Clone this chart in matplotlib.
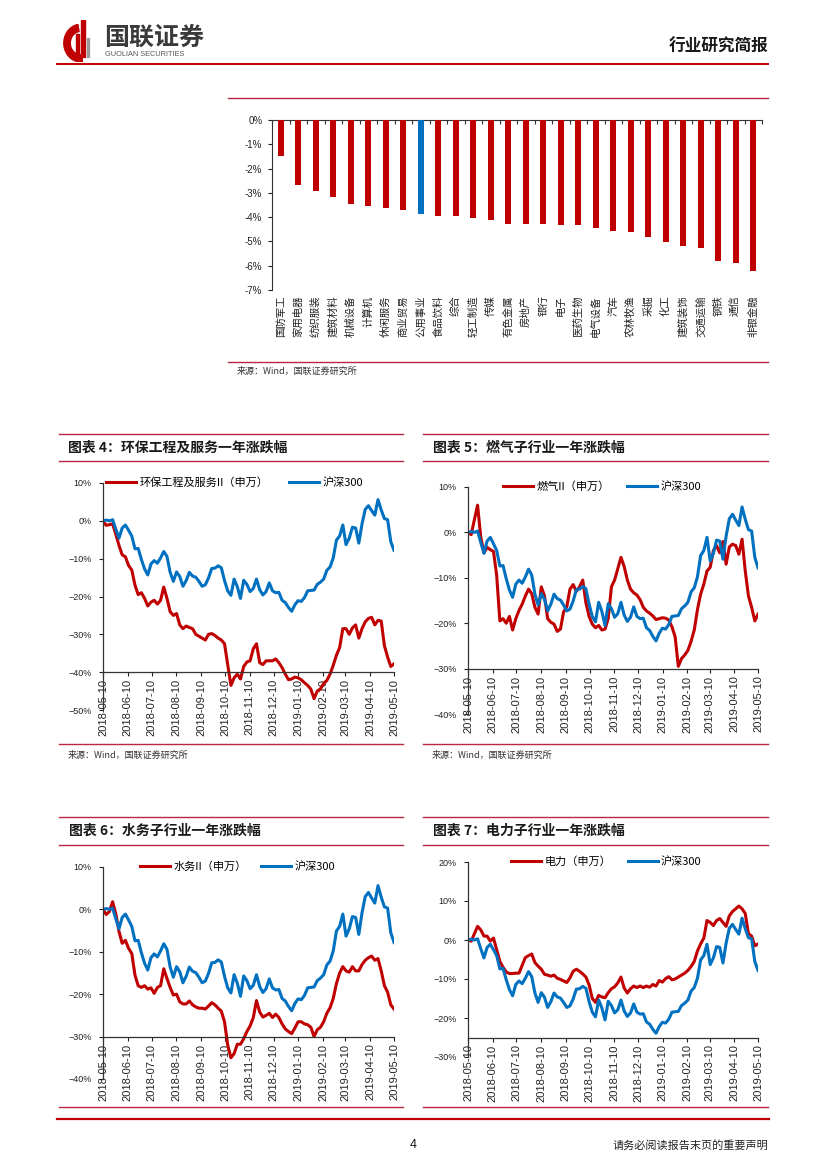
import numpy as np
import pandas as pd
import matplotlib
matplotlib.use('Agg')
import matplotlib.pyplot as plt
from matplotlib.lines import Line2D
from matplotlib.patches import Wedge, Rectangle

W, H = 827, 1169
CJK = ['Noto Sans CJK SC', 'DejaVu Sans']
LAT = ['Liberation Sans', 'DejaVu Sans']
plt.rcParams['font.family'] = CJK
plt.rcParams['axes.unicode_minus'] = False

RED = '#C00000'
BLUE = '#0070C0'
RULE = '#B8283F'
AXC = '#333333'

# ---------------- bar chart data ----------------
industries = ['国防军工', '家用电器', '纺织服装', '建筑材料', '机械设备', '计算机', '休闲服务',
              '商业贸易', '公用事业', '食品饮料', '综合', '轻工制造', '传媒', '有色金属',
              '房地产', '银行', '电子', '医药生物', '电气设备', '汽车', '农林牧渔', '采掘',
              '化工', '建筑装饰', '交通运输', '钢铁', '通信', '非银金融']
bar_changes = [-1.50, -2.66, -2.93, -3.17, -3.46, -3.55, -3.62, -3.71, -3.87, -3.94,
               -3.97, -4.05, -4.10, -4.27, -4.28, -4.30, -4.34, -4.34, -4.46, -4.57,
               -4.60, -4.83, -5.03, -5.18, -5.28, -5.80, -5.87, -6.20]
highlight = '公用事业'
bar_ticks = [-7, -6, -5, -4, -3, -2, -1, 0]

# ---------------- line chart data ----------------
dates = pd.date_range('2018-05-10', '2019-05-10', periods=92)
month_ticks = pd.date_range('2018-05-10', '2019-05-10', freq=pd.DateOffset(months=1))

hs300 = [0.0, 0.2, 0.0, 0.3, -2.2, -4.6, -1.9, -1.1, -2.5, -4.0,
         -7.4, -7.3, -10.2, -12.7, -14.3, -11.4, -10.5, -11.2, -9.8, -8.1,
         -9.4, -13.6, -16.0, -13.5, -14.7, -17.3, -15.8, -13.6, -14.6, -14.9,
         -16.0, -17.3, -16.9, -15.1, -12.6, -12.5, -11.9, -12.4, -15.8, -18.5,
         -19.7, -15.4, -17.4, -20.5, -15.7, -16.8, -18.7, -17.9, -15.4, -18.2,
         -19.6, -18.7, -16.4, -18.5, -19.0, -18.9, -21.0, -21.6, -22.9, -23.9,
         -22.2, -21.1, -21.3, -20.3, -18.5, -18.4, -18.3, -16.8, -16.2, -15.4,
         -13.1, -12.2, -9.8, -5.1, -4.0, -1.1, -6.3, -4.6, -1.7, -1.9,
         -5.9, -0.8, 3.0, 4.0, 2.7, 1.5, 5.6, 2.9, 0.6, 0.3,
         -5.5, -7.8]

env_service = [0.0, -1.2, -1.0, -0.8, -3.5, -6.5, -9.0, -9.5, -11.8, -13.0,
               -17.0, -19.5, -19.0, -20.5, -22.5, -21.5, -21.0, -22.0, -21.0, -17.5,
               -20.5, -24.0, -25.0, -24.5, -27.5, -28.5, -27.8, -28.2, -28.5, -30.0,
               -30.5, -31.0, -31.5, -30.0, -29.8, -30.3, -31.0, -31.5, -32.5, -38.0,
               -43.5, -41.5, -40.5, -41.8, -38.5, -37.3, -37.0, -33.8, -32.5, -37.5,
               -38.0, -37.0, -37.0, -37.0, -36.5, -37.5, -38.8, -40.5, -42.0, -41.8,
               -41.3, -41.5, -42.0, -42.8, -43.5, -44.5, -47.0, -45.0, -44.4, -43.0,
               -42.2, -40.5, -38.2, -35.5, -33.5, -28.5, -28.5, -30.0, -28.3, -27.5,
               -31.0, -28.5, -26.7, -25.8, -25.5, -27.5, -26.3, -26.5, -33.0, -36.0,
               -38.5, -37.8]

gas = [0.0, -0.5, 2.8, 6.0, -1.0, -4.5, -3.3, -3.8, -4.2, -9.5,
       -19.5, -19.0, -20.0, -18.5, -21.5, -19.0, -17.2, -15.8, -14.0, -12.5,
       -13.5, -16.5, -18.0, -12.0, -14.0, -19.0, -19.8, -20.2, -21.8, -21.3,
       -17.5, -16.4, -12.5, -11.5, -13.0, -12.0, -10.5, -15.5, -18.5, -20.2,
       -21.0, -20.5, -21.5, -21.3, -19.0, -12.0, -10.5, -8.0, -5.5, -7.5,
       -10.5, -12.5, -13.3, -13.8, -14.8, -16.5, -17.3, -17.8, -18.4, -19.2,
       -19.0, -18.8, -18.9, -19.3, -20.8, -23.0, -29.5, -27.8, -27.0, -26.0,
       -24.0, -21.5, -17.0, -13.6, -11.4, -8.5, -7.7, -4.0, -2.9, -4.5,
       -2.0, -7.0, -3.2, -2.6, -2.9, -4.8, -1.5, -8.5, -14.0, -16.5,
       -19.5, -18.0]

water = [0.0, -1.2, -0.5, 1.8, -1.0, -5.2, -8.0, -7.3, -9.2, -10.4,
         -15.5, -18.0, -18.4, -18.0, -18.8, -18.5, -19.8, -18.4, -18.0, -14.0,
         -16.3, -18.4, -20.2, -20.0, -21.8, -22.3, -22.3, -21.6, -22.5, -23.0,
         -23.3, -23.3, -23.5, -22.8, -22.0, -22.5, -23.3, -24.0, -26.5, -32.0,
         -35.0, -34.0, -31.8, -31.8, -30.5, -28.8, -27.5, -25.5, -21.5, -24.2,
         -25.4, -25.0, -24.5, -25.5, -24.7, -25.5, -27.0, -28.2, -28.8, -29.3,
         -28.0, -26.5, -26.5, -27.0, -27.2, -27.8, -30.0, -28.4, -27.8, -26.5,
         -24.5, -23.2, -21.0, -17.5, -15.0, -13.5, -14.5, -14.8, -13.5, -14.5,
         -14.5, -13.0, -12.0, -11.4, -11.0, -12.0, -11.6, -14.5, -18.0, -19.5,
         -22.5, -23.5]

power = [0.0, -0.3, 1.6, 3.5, 2.6, 1.0, 1.0, -0.3, 0.5, -2.5,
         -5.5, -7.0, -8.2, -8.6, -8.6, -8.5, -8.5, -6.5, -4.5, -4.0,
         -3.6, -5.8, -6.7, -7.5, -8.8, -9.0, -9.3, -9.0, -9.8, -10.1,
         -10.5, -10.9, -9.7, -8.0, -7.5, -8.0, -8.7, -9.5, -11.5, -15.0,
         -16.0, -14.2, -14.6, -14.8, -13.5, -12.5, -12.0, -11.0, -9.5, -12.3,
         -13.6, -12.5, -11.8, -12.2, -11.8, -12.2, -11.8, -12.1, -11.4, -11.8,
         -10.4, -10.8, -9.9, -9.4, -10.2, -10.0, -9.5, -9.0, -8.5, -7.8,
         -6.8, -5.5, -2.8, -1.0, 0.5, 5.0, 4.5, 3.7, 5.0, 5.5,
         4.5, 3.5, 6.2, 7.3, 8.0, 8.7, 8.0, 6.8, 1.6, 1.0,
         -1.5, -1.0]

fig = plt.figure(figsize=(W / 100, H / 100), dpi=100)


def box(x0, y0, x1, y1):
    return [x0 / W, 1 - y1 / H, (x1 - x0) / W, (y1 - y0) / H]


def hline(y, x0, x1, color, lw):
    fig.add_artist(Line2D([x0 / W, x1 / W], [1 - y / H, 1 - y / H], color=color, lw=lw,
                          transform=fig.transFigure))


def ftext(x, y, s, **kw):
    fig.text(x / W, 1 - y / H, s, **kw)


# ---------------- page header ----------------
lax = fig.add_axes(box(60, 20, 98, 62))
lax.set_xlim(0, 1)
lax.set_ylim(0, 1)
lax.axis('off')
lax.add_patch(Wedge((0.55, 0.45), 0.45, 100, 275, width=0.17, color=RED))
lax.add_patch(Rectangle((0.42, 0.12), 0.09, 0.55, color=RED))
lax.add_patch(Rectangle((0.56, 0.12), 0.09, 0.88, color=RED))
lax.add_patch(Rectangle((0.70, 0.12), 0.07, 0.45, color='#9a9a9a'))
ftext(104, 38, '国联证券', fontsize=18, fontweight='bold', color='#3a3a3a', va='center', ha='left')
ftext(105, 54, 'GUOLIAN SECURITIES', fontsize=5.3, color='#555555', va='center', ha='left',
      family=LAT)
ftext(768, 47, '行业研究简报', fontsize=12, fontweight='bold', color='#1a1a1a', va='center',
      ha='right')
hline(64, 57, 768, RED, 1.4)

# ---------------- bar chart ----------------
hline(98, 228, 768, RULE, 1.0)
axb = fig.add_axes(box(272, 120, 762, 290))
xb = np.arange(len(industries))
axb.bar(xb, bar_changes, width=0.36,
        color=[BLUE if n == highlight else RED for n in industries], zorder=2)
axb.set_xlim(-0.5, len(industries) - 0.5)
axb.set_ylim(-7, 0)
for s in ['right', 'bottom', 'top']:
    axb.spines[s].set_visible(False)
axb.spines['left'].set_color(AXC)
axb.tick_params(axis='x', length=0, pad=4, colors='#222222')
axb.tick_params(axis='y', length=3, direction='out', pad=4, colors='#222222', width=0.8)
axb.set_yticks(bar_ticks)
axb.set_yticklabels([f'{v}%' for v in bar_ticks], family=LAT, fontsize=7)
axb.set_xticks(xb)
axb.set_xticklabels(industries, rotation=90, fontsize=7.5, va='top', ha='center')
topx = axb.secondary_xaxis('top')
topx.set_xticks(np.arange(-0.5, len(industries)))
topx.tick_params(direction='in', length=3, labeltop=False, colors=AXC, width=0.8)
topx.spines['top'].set_color(AXC)
hline(362, 228, 768, RULE, 1.0)
ftext(237, 371, '来源：Wind，国联证券研究所', fontsize=6.5, color='#333333', va='center', ha='left')


# ---------------- line charts ----------------
def chart_header(y_top, y_bot, x0, x1, title, tx):
    hline(y_top, x0, x1, RULE, 1.0)
    hline(y_bot, x0, x1, RULE, 1.0)
    ftext(tx, (y_top + y_bot) / 2, title, fontsize=10, fontweight='bold', color='#1a1a1a',
          va='center', ha='left')


def line_chart(rect, ind, name, ylim, cross, leg_x, colsp):
    ax = fig.add_axes(box(*rect))
    ax.patch.set_alpha(0)
    ax.plot(dates, ind, color=RED, lw=2.2, label=name, solid_joinstyle='round')
    ax.plot(dates, hs300, color=BLUE, lw=2.2, label='沪深300', solid_joinstyle='round')
    ax.set_xlim(dates[0], dates[-1])
    ax.set_ylim(*ylim)
    for s in ['top', 'right']:
        ax.spines[s].set_visible(False)
    ax.spines['bottom'].set_position(('data', cross))
    for s in ['left', 'bottom']:
        ax.spines[s].set_color(AXC)
        ax.spines[s].set_linewidth(0.9)
    ax.tick_params(axis='both', direction='out', length=3, width=0.8, colors='#222222')
    ax.tick_params(axis='x', pad=2, labelrotation=90)
    ax.tick_params(axis='y', pad=5)
    yt = np.arange(ylim[0], ylim[1] + 1, 10)
    ax.set_yticks(yt)
    ax.set_yticklabels([f'{v:.0f}%'.replace('-', '\u2212') for v in yt], family=LAT,
                       fontsize=6.5)
    ax.set_xticks(month_ticks)
    ax.set_xticklabels([d.strftime('%Y-%m-%d') for d in month_ticks], rotation=90,
                       family=LAT, fontsize=8, va='top', ha='center')
    ax.legend(loc='center left', bbox_to_anchor=(leg_x, 1.0), ncol=2, frameon=False,
              handlelength=2.7, handletextpad=0.3, columnspacing=colsp, borderaxespad=0,
              borderpad=0, prop={'family': CJK, 'size': 8})
    return ax


chart_header(434, 461, 59, 403, '图表 4：环保工程及服务一年涨跌幅', 68)
chart_header(434, 461, 423, 768, '图表 5：燃气子行业一年涨跌幅', 433)
line_chart((103, 483, 394, 710), env_service, '环保工程及服务II（申万）', (-50, 10), -40, 0.01, 1.9)
line_chart((468, 487, 758, 714), gas, '燃气II（申万）', (-40, 10), -30, 0.12, 1.6)
hline(744, 59, 403, RULE, 1.0)
hline(744, 423, 768, RULE, 1.0)
ftext(68, 755, '来源：Wind，国联证券研究所', fontsize=6.5, color='#333333', va='center', ha='left')
ftext(432, 755, '来源：Wind，国联证券研究所', fontsize=6.5, color='#333333', va='center', ha='left')

chart_header(817, 845, 59, 403, '图表 6：水务子行业一年涨跌幅', 69)
chart_header(817, 845, 423, 768, '图表 7：电力子行业一年涨跌幅', 433)
line_chart((103, 867, 394, 1079), water, '水务II（申万）', (-40, 10), -30, 0.127, 1.3)
line_chart((468, 862, 758, 1057), power, '电力（申万）', (-30, 20), -25, 0.148, 1.5)
hline(1107, 59, 403, RULE, 1.0)
hline(1107, 423, 768, RULE, 1.0)

# ---------------- footer ----------------
hline(1119, 57, 769, RED, 1.6)
ftext(413, 1145, '4', fontsize=9, color='#111111', va='center', ha='center', family=LAT)
ftext(768, 1145, '请务必阅读报告末页的重要声明', fontsize=8, color='#222222', va='center',
      ha='right')

fig.savefig('out.png', dpi=100)
